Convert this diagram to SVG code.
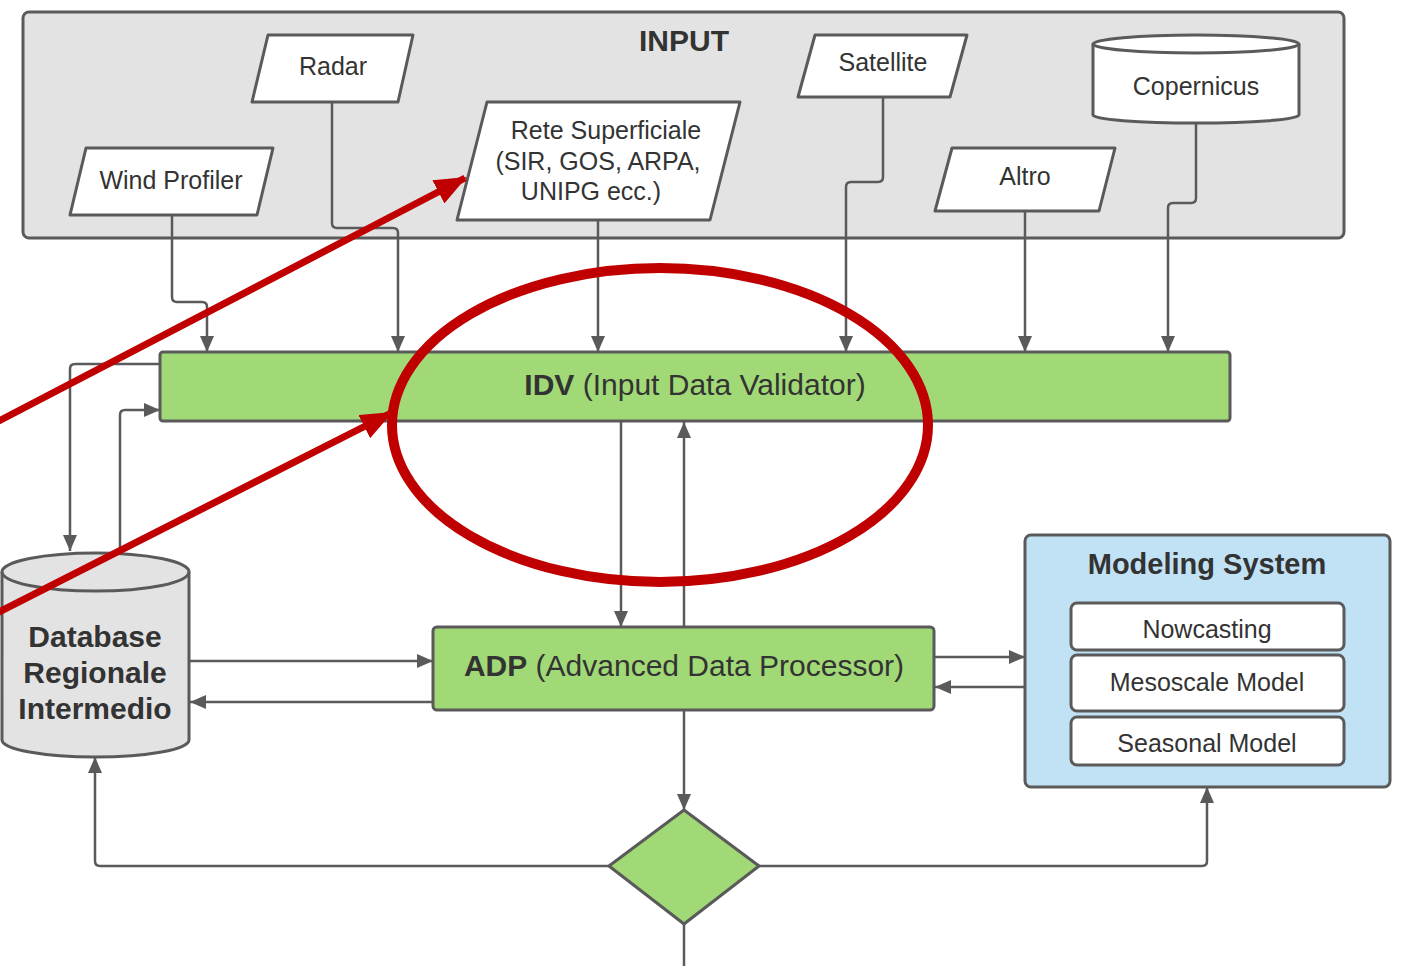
<svg xmlns="http://www.w3.org/2000/svg" width="1409" height="966" viewBox="0 0 1409 966">
<defs>
<style>
.sh{stroke:#5a5a5a;stroke-width:3;stroke-linejoin:round}
.wh{fill:#ffffff}
.gr{fill:#a2d977}
.lg{fill:#e3e3e3}
.t{font-family:"Liberation Sans",Arial,sans-serif;font-size:25px;fill:#333333;text-anchor:middle}
.b{font-weight:bold}
.big{font-size:30px}
.c{fill:none;stroke:#5a5a5a;stroke-width:2.5;stroke-linejoin:round}
.red{fill:none;stroke:#c00000}
</style>
<marker id="ah" markerUnits="userSpaceOnUse" markerWidth="16" markerHeight="14" refX="16" refY="7" orient="auto">
<path d="M0,0 L16,7 L0,14 z" fill="#5a5a5a"/>
</marker>
<marker id="rh" markerUnits="userSpaceOnUse" markerWidth="32" markerHeight="26" refX="30" refY="13" orient="auto">
<path d="M0,0 L32,13 L0,26 z" fill="#c00000"/>
</marker>
</defs>
<rect width="1409" height="966" fill="#ffffff"/>

<g id="input">
<rect x="23" y="12" width="1321" height="226" rx="6" class="sh lg"/>
<text x="684" y="51" class="t b big">INPUT</text>
</g>

<g id="radar">
<path d="M268,35 L413,35 L398,102 L252,102 Z" class="sh wh"/>
<text x="333" y="75" class="t">Radar</text>
</g>
<g id="windprofiler">
<path d="M86,148 L273,148 L257,215 L70,215 Z" class="sh wh"/>
<text x="171" y="189" class="t">Wind Profiler</text>
</g>
<g id="rete">
<path d="M487,102 L740,102 L710,220 L457,220 Z" class="sh wh"/>
<text x="606" y="139" class="t">Rete Superficiale</text>
<text x="598" y="170" class="t">(SIR, GOS, ARPA,</text>
<text x="591" y="200" class="t">UNIPG ecc.)</text>
</g>
<g id="satellite">
<path d="M815,35 L967,35 L950,97 L798,97 Z" class="sh wh"/>
<text x="883" y="71" class="t">Satellite</text>
</g>
<g id="altro">
<path d="M952,148 L1115,148 L1099,211 L935,211 Z" class="sh wh"/>
<text x="1025" y="185" class="t">Altro</text>
</g>
<g id="copernicus">
<path d="M1093,44 A103,9 0 0 1 1299,44 L1299,115 A103,8 0 0 1 1093,115 Z" class="sh wh"/>
<path d="M1093,44 A103,9 0 0 0 1299,44" class="sh" fill="none"/>
<text x="1196" y="95" class="t">Copernicus</text>
</g>

<g id="idv">
<rect x="160" y="352" width="1070" height="69" rx="3" class="sh gr"/>
<text x="695" y="395" class="t big"><tspan class="b">IDV</tspan> (Input Data Validator)</text>
</g>

<g id="database">
<path d="M2,572 A93.5,19 0 0 1 189,572 L189,740 A93.5,17 0 0 1 2,740 Z" class="sh lg"/>
<path d="M2,572 A93.5,19 0 0 0 189,572" class="sh" fill="none"/>
<text x="95" y="647" class="t b big">Database</text>
<text x="95" y="683" class="t b big">Regionale</text>
<text x="95" y="719" class="t b big">Intermedio</text>
</g>

<g id="adp">
<rect x="433" y="627" width="501" height="83" rx="4" class="sh gr"/>
<text x="684" y="676" class="t big"><tspan class="b">ADP</tspan> (Advanced Data Processor)</text>
</g>

<g id="modeling">
<rect x="1025" y="535" width="365" height="252" rx="6" class="sh" fill="#c1e2f5"/>
<text x="1207" y="574" class="t b" style="font-size:29px">Modeling System</text>
<rect x="1071" y="603" width="273" height="47" rx="6" class="sh wh"/>
<text x="1207" y="638" class="t">Nowcasting</text>
<rect x="1071" y="655" width="273" height="56" rx="6" class="sh wh"/>
<text x="1207" y="691" class="t">Mesoscale Model</text>
<rect x="1071" y="717" width="273" height="48" rx="6" class="sh wh"/>
<text x="1207" y="752" class="t">Seasonal Model</text>
</g>

<g id="decision">
<path d="M684,810 L759,866 L684,924 L609,866 Z" class="sh gr"/>
</g>

<g id="connectors">
<path d="M172,215 L172,297 Q172,302 177,302 L202,302 Q207,302 207,307 L207,352" class="c" marker-end="url(#ah)"/>
<path d="M332,102 L332,223 Q332,228 337,228 L393,228 Q398,228 398,233 L398,352" class="c" marker-end="url(#ah)"/>
<path d="M598,220 L598,352" class="c" marker-end="url(#ah)"/>
<path d="M883,97 L883,177 Q883,182 878,182 L851,182 Q846,182 846,187 L846,352" class="c" marker-end="url(#ah)"/>
<path d="M1025,211 L1025,352" class="c" marker-end="url(#ah)"/>
<path d="M1196,123 L1196,198 Q1196,203 1191,203 L1173,203 Q1168,203 1168,208 L1168,352" class="c" marker-end="url(#ah)"/>
<path d="M160,364 L75,364 Q70,364 70,369 L70,551" class="c" marker-end="url(#ah)"/>
<path d="M120,553 L120,415 Q120,410 125,410 L160,410" class="c" marker-end="url(#ah)"/>
<path d="M621,421 L621,627" class="c" marker-end="url(#ah)"/>
<path d="M684,627 L684,422" class="c" marker-end="url(#ah)"/>
<path d="M189,661 L433,661" class="c" marker-end="url(#ah)"/>
<path d="M433,702 L190,702" class="c" marker-end="url(#ah)"/>
<path d="M934,657 L1025,657" class="c" marker-end="url(#ah)"/>
<path d="M1025,687 L935,687" class="c" marker-end="url(#ah)"/>
<path d="M684,710 L684,810" class="c" marker-end="url(#ah)"/>
<path d="M609,866 L100,866 Q95,866 95,861 L95,757" class="c" marker-end="url(#ah)"/>
<path d="M759,866 L1202,866 Q1207,866 1207,861 L1207,787" class="c" marker-end="url(#ah)"/>
<path d="M684,924 L684,966" class="c"/>
</g>

<g id="annotations">
<ellipse cx="660" cy="425" rx="268" ry="157" class="red" stroke-width="10"/>
<path d="M-5,423 L465,178" class="red" stroke-width="7" marker-end="url(#rh)"/>
<path d="M-5,614 L391,413" class="red" stroke-width="7" marker-end="url(#rh)"/>
</g>
</svg>
